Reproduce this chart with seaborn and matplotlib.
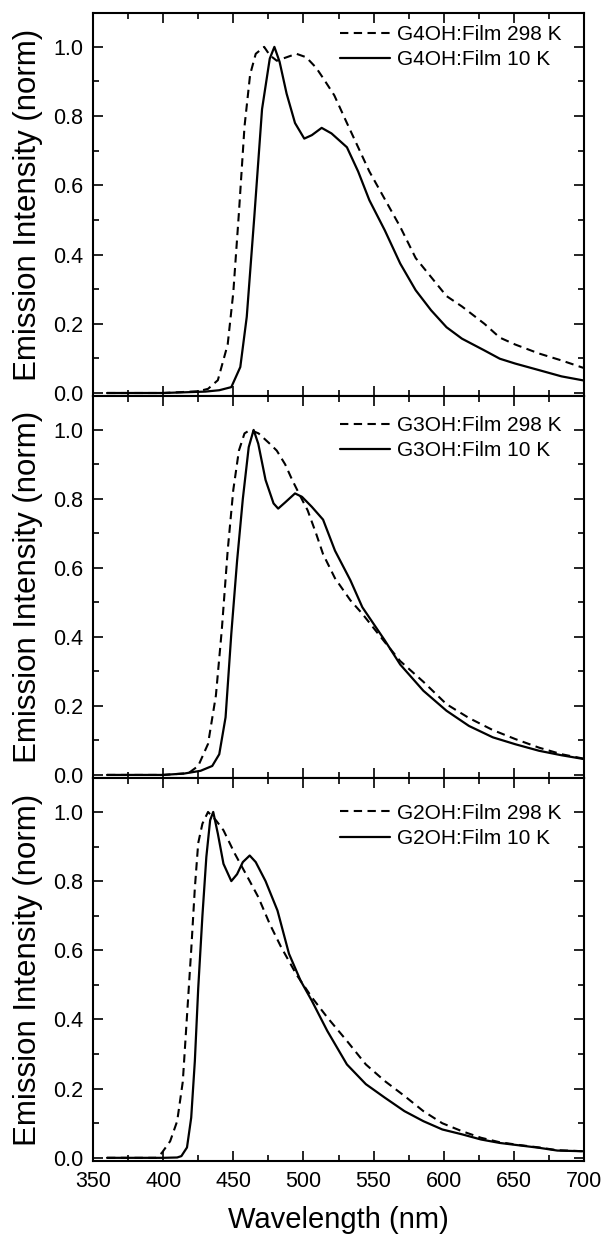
import matplotlib
matplotlib.use("Agg")
import matplotlib.pyplot as plt
import seaborn as sns
from matplotlib.ticker import MultipleLocator

# --- data (wavelength nm, normalised intensity) ---
# G4OH film
g4_298_x = [360, 400, 425, 432, 439, 446, 450, 454, 458, 462, 466, 472, 476, 481, 488, 495,
            502, 509, 514, 522, 531, 539, 547, 558, 569, 580, 591, 602, 613, 629, 640, 651,
            668, 684, 700]
g4_298_y = [0.0, 0.0, 0.005, 0.012, 0.037, 0.14, 0.29, 0.52, 0.77, 0.92, 0.98, 1.0, 0.976,
            0.96, 0.97, 0.98, 0.97, 0.94, 0.91, 0.86, 0.78, 0.71, 0.64, 0.56, 0.48, 0.39,
            0.335, 0.28, 0.25, 0.20, 0.16, 0.14, 0.114, 0.094, 0.072]
g4_10_x = [360, 400, 430, 440, 448.6, 455, 459.6, 465, 470.5, 476, 479.3, 483, 488, 494,
           500.6, 506, 513, 520, 531, 539, 547, 558, 569, 580, 591, 602, 613, 629, 640,
           651, 668, 684, 700]
g4_10_y = [0.0, 0.0, 0.004, 0.008, 0.017, 0.075, 0.22, 0.51, 0.82, 0.966, 1.0, 0.957,
           0.865, 0.78, 0.735, 0.745, 0.766, 0.75, 0.71, 0.64, 0.557, 0.47, 0.374, 0.297,
           0.239, 0.19, 0.157, 0.123, 0.099, 0.085, 0.066, 0.048, 0.036]

# G3OH film
g3_298_x = [360, 400, 418, 425, 432, 437.6, 441.8, 446, 450, 454, 458, 462, 468, 476, 481,
            487, 492, 498, 503, 509, 514, 522.5, 533.5, 542, 558, 569, 585.5, 602, 618,
            635, 651, 668, 684, 700]
g3_298_y = [0.0, 0.0, 0.005, 0.026, 0.09, 0.23, 0.42, 0.65, 0.826, 0.94, 0.99, 1.0, 0.99,
            0.96, 0.94, 0.90, 0.855, 0.806, 0.767, 0.70, 0.64, 0.57, 0.506, 0.467, 0.385,
            0.33, 0.27, 0.205, 0.165, 0.13, 0.104, 0.079, 0.06, 0.047]
g3_10_x = [360, 400, 415, 426.7, 435, 440, 444.5, 448.6, 452.7, 456.8, 461, 464.5, 467.8,
           473, 478.7, 482, 487, 494, 499, 506, 514, 522.5, 533.5, 542, 558, 569, 585.5,
           602, 618, 635, 651, 668, 684, 700]
g3_10_y = [0.0, 0.0, 0.004, 0.012, 0.026, 0.06, 0.167, 0.41, 0.62, 0.80, 0.95, 1.0, 0.96,
           0.855, 0.787, 0.772, 0.79, 0.816, 0.806, 0.777, 0.74, 0.65, 0.564, 0.486, 0.39,
           0.32, 0.244, 0.186, 0.142, 0.109, 0.089, 0.07, 0.057, 0.046]

# G2OH film
g2_298_x = [360, 395, 399, 405, 410, 414, 417, 420, 422.6, 425, 428, 432, 437.6, 443, 451,
            459.6, 467.8, 476, 484, 495, 506, 517, 531, 544.5, 558, 572, 585.5, 599, 613,
            626.6, 640, 654, 668, 681, 700]
g2_298_y = [0.0, 0.0, 0.014, 0.048, 0.106, 0.22, 0.41, 0.60, 0.78, 0.91, 0.966, 1.0, 0.976,
            0.947, 0.88, 0.816, 0.754, 0.676, 0.61, 0.53, 0.464, 0.406, 0.338, 0.27, 0.222,
            0.179, 0.135, 0.10, 0.077, 0.058, 0.045, 0.037, 0.03, 0.022, 0.019]
g2_10_x = [360, 400, 410, 413, 417, 420, 422.6, 425, 428, 430.8, 433.5, 435.7, 439, 443,
           448.6, 452.7, 456.8, 461.7, 466, 473, 481.5, 489.7, 498, 506, 517, 531, 544.5,
           558, 572, 585.5, 599, 613, 626.6, 640, 654, 668, 681, 700]
g2_10_y = [0.0, 0.0, 0.001, 0.005, 0.03, 0.116, 0.28, 0.49, 0.70, 0.87, 0.976, 1.0, 0.937,
           0.85, 0.80, 0.82, 0.855, 0.874, 0.855, 0.80, 0.715, 0.59, 0.512, 0.454, 0.367,
           0.27, 0.213, 0.174, 0.135, 0.106, 0.082, 0.068, 0.053, 0.043, 0.036, 0.029,
           0.021, 0.019]

panels = [
    ("G4OH", g4_298_x, g4_298_y, g4_10_x, g4_10_y),
    ("G3OH", g3_298_x, g3_298_y, g3_10_x, g3_10_y),
    ("G2OH", g2_298_x, g2_298_y, g2_10_x, g2_10_y),
]

sns.set_style("ticks")
plt.rcParams["font.family"] = ["Liberation Sans", "DejaVu Sans"]
for key in ["text.color", "axes.labelcolor", "xtick.color", "ytick.color", "axes.edgecolor"]:
    plt.rcParams[key] = "black"

fig = plt.figure(figsize=(6.06, 12.34), dpi=100)
left, width = 93 / 606, 491 / 606
bottoms = [0.679, 0.3695, 0.0592]
heights = [0.9895 - 0.679, 0.679 - 0.3695, 0.3695 - 0.0592]
legend_top = [0.968, 0.948, 0.933]

for i, (name, xd, yd, xs, ys) in enumerate(panels):
    ax = fig.add_axes([left, bottoms[i], width, heights[i]])
    sns.lineplot(x=xd, y=yd, ax=ax, color="black", lw=1.5,
                 linestyle=(0, (4, 2.6)), label=f"{name}:Film 298 K", sort=False)
    sns.lineplot(x=xs, y=ys, ax=ax, color="black", lw=1.6,
                 label=f"{name}:Film 10 K", sort=False)
    ax.set_xlim(350, 700)
    ax.set_ylim(-0.009, 1.098)
    ax.xaxis.set_major_locator(MultipleLocator(50))
    ax.xaxis.set_minor_locator(MultipleLocator(25))
    ax.yaxis.set_major_locator(MultipleLocator(0.2))
    ax.yaxis.set_minor_locator(MultipleLocator(0.1))
    ax.yaxis.set_major_formatter(plt.FormatStrFormatter("%.1f"))
    ax.tick_params(which="both", direction="in", top=True, right=True, width=1.2,
                   labelsize=15.5, color="black", labelcolor="black", pad=7)
    ax.tick_params(which="major", length=7)
    ax.tick_params(which="minor", length=4)
    for sp in ax.spines.values():
        sp.set_linewidth(1.5)
        sp.set_color("black")
    ax.set_ylabel("Emission Intensity (norm)", fontsize=22.5, labelpad=7)
    if i < 2:
        ax.tick_params(labelbottom=False)
        ax.set_xlabel("")
    else:
        ax.set_xlabel("Wavelength (nm)", fontsize=21, labelpad=10)
    ax.legend(loc="upper left", frameon=False, fontsize=15, handlelength=2.4,
              handletextpad=0.34, labelspacing=0.3, borderaxespad=0, borderpad=0,
              bbox_to_anchor=(0.503, legend_top[i]))

fig.savefig("out.png", dpi=100)
